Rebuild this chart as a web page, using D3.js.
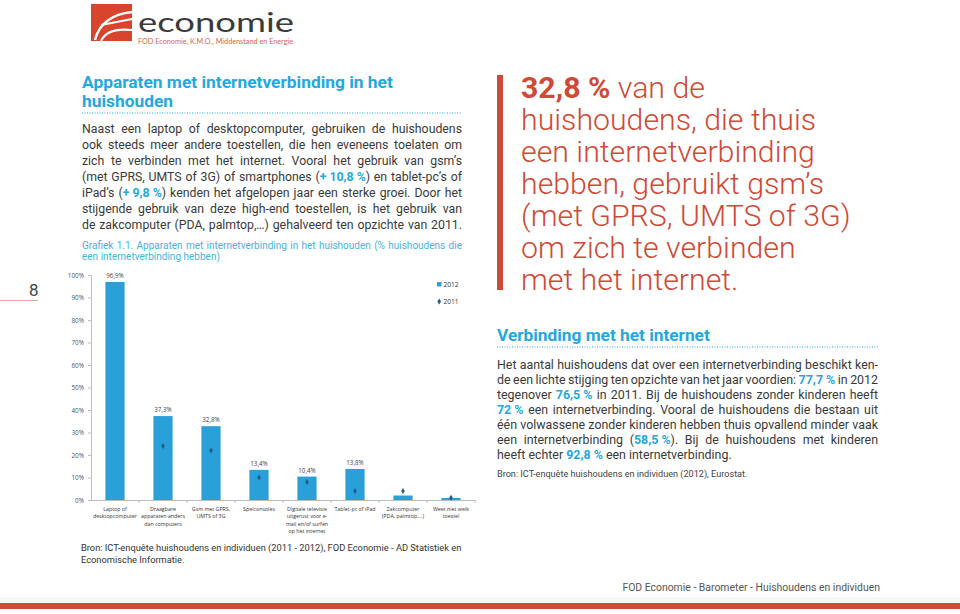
<!DOCTYPE html>
<html><head><meta charset="utf-8">
<script src="https://cdn.jsdelivr.net/npm/d3@7"></script>
<style>body{margin:0;background:#fff;} svg{display:block}</style>
</head><body>
<svg id="page" width="960" height="614"></svg>
<script>
// ---------- DATA ----------
const categories = ["Laptop of desktopcomputer","Draagbare apparaten anders dan computers","Gsm met GPRS, UMTS of 3G","Spelconsoles","Digitale televisie uitgerust voor e-mail en/of surfen op het internet","Tablet-pc of iPad","Zakcomputer (PDA, palmtop,…)","Weet niet welk toestel"];
const categoryLines = [["Laptop of","desktopcomputer"],["Draagbare","apparaten anders","dan computers"],["Gsm met GPRS,","UMTS of 3G"],["Spelconsoles"],["Digitale televisie","uitgerust voor e-","mail en/of surfen","op het internet"],["Tablet-pc of iPad"],["Zakcomputer","(PDA, palmtop,…)"],["Weet niet welk","toestel"]];
const values2012 = [96.9, 37.3, 32.8, 13.4, 10.4, 13.8, 2.0, 0.9];
const values2011 = [null, 24.0, 22.0, 10.0, 8.0, 4.0, 4.0, 1.0];
const barLabels = ["96,9%","37,3%","32,8%","13,4%","10,4%","13,8%",null,null];
const yTickValues = [0,10,20,30,40,50,60,70,80,90,100];
const yTickLabels = ["0%","10%","20%","30%","40%","50%","60%","70%","80%","90%","100%"];
const seriesNames = ["2012","2011"];

const titleLines = ["Apparaten met internetverbinding in het","huishouden"];
const introLines = [
  [["Naast een laptop of desktopcomputer, gebruiken de huishoudens"]],
  [["ook steeds meer andere toestellen, die hen eveneens toelaten om"]],
  [["zich te verbinden met het internet. Vooral het gebruik van gsm’s"]],
  [["(met GPRS, UMTS of 3G) of smartphones ("],["+ 10,8 %","b"],[") en tablet-pc’s of"]],
  [["iPad’s ("],["+ 9,8 %","b"],[") kenden het afgelopen jaar een sterke groei. Door het"]],
  [["stijgende gebruik van deze high-end toestellen, is het gebruik van"]],
  [["de zakcomputer (PDA, palmtop,…) gehalveerd ten opzichte van 2011."]]
];
const captionLines = ["Grafiek 1.1. Apparaten met internetverbinding in het huishouden (% huishoudens die","een internetverbinding hebben)"];
const quoteLines = [[["32,8 %","b"],[" van de"]],[["huishoudens, die thuis"]],[["een internetverbinding"]],[["hebben, gebruikt gsm’s"]],[["(met GPRS, UMTS of 3G)"]],[["om zich te verbinden"]],[["met het internet."]]];
const section2Title = "Verbinding met het internet";
const section2Lines = [
  [["Het aantal huishoudens dat over een internetverbinding beschikt ken-"]],
  [["de een lichte stijging ten opzichte van het jaar voordien: "],["77,7 %","b"],[" in 2012"]],
  [["tegenover "],["76,5 %","b"],[" in 2011. Bij de huishoudens zonder kinderen heeft"]],
  [["72 %","b"],[" een internetverbinding. Vooral de huishoudens die bestaan uit"]],
  [["één volwassene zonder kinderen hebben thuis opvallend minder vaak"]],
  [["een internetverbinding ("],["58,5 %","b"],["). Bij de huishoudens met kinderen"]],
  [["heeft echter "],["92,8 %","b"],[" een internetverbinding."]]
];
const source2 = "Bron: ICT-enquête huishoudens en individuen (2012), Eurostat.";
const sourceLines = ["Bron: ICT-enquête huishoudens en individuen (2011 - 2012), FOD Economie - AD Statistiek en","Economische Informatie."];
const footerText = "FOD Economie - Barometer - Huishoudens en individuen";

// ---------- STYLE ----------
const RED = "#cf4a36", CYAN = "#1fa9df", TEXT = "#3a3a3a", BAR = "#2a9fd9", MARK = "#1f5c8c";
const FONT = "Roboto, 'Open Sans', sans-serif";
const CFONT = "'Open Sans', 'Liberation Sans', sans-serif";

const svg = d3.select("#page");
const measureT = svg.append("text").attr("x",-1000).attr("y",-1000);
function measure(str, size, weight, family){
  measureT.attr("font-family", family||FONT).attr("font-size", size).attr("font-weight", weight||400).text(str);
  return measureT.node().getComputedTextLength();
}
function fitSize(str, target, weight, family){
  return 20 * target / measure(str, 20, weight, family);
}
function segText(segs){ return segs.map(s => s[0]).join(""); }
function richLine(x0, y, width, segs, size, opts){
  opts = opts || {};
  const fam = opts.family || FONT;
  const words = []; let cur = [];
  segs.forEach(([t, st]) => {
    let buf = "";
    for (const ch of t){
      if (ch === " " && st !== "b"){ if (buf) cur.push([buf, st]); buf=""; if (cur.length) words.push(cur); cur = []; }
      else buf += ch;
    }
    if (buf) cur.push([buf, st]);
  });
  if (cur.length) words.push(cur);
  const wWidths = words.map(w => d3.sum(w, p => measure(p[0], size, p[1]==="b"?(opts.boldW||700):(opts.weight||400), fam)));
  const space = measure("a a", size, opts.weight||400, fam) - measure("aa", size, opts.weight||400, fam);
  const gap = opts.justify && words.length>1 ? (width - d3.sum(wWidths)) / (words.length-1) : space;
  const t = svg.append("text").attr("y", y).attr("font-family", fam).attr("font-size", size)
    .attr("font-weight", opts.weight||400).attr("fill", opts.fill||TEXT);
  let x = x0;
  words.forEach((w,i) => {
    w.forEach((p,j) => {
      const ts = t.append("tspan").text(p[0]);
      if (j===0) ts.attr("x", x);
      if (p[1]==="b") ts.attr("font-weight", opts.boldW||700).attr("fill", opts.boldFill||CYAN);
    });
    x += wWidths[i] + gap;
  });
  return t;
}

// ---------- HEADER / LOGO ----------
svg.append("rect").attr("x",91).attr("y",4).attr("width",41).attr("height",37).attr("fill","#d8452c");
svg.append("path").attr("d","M95,40 C99,24 112,14 132,12").attr("fill","none").attr("stroke","#fff").attr("stroke-width",2.6);
svg.append("path").attr("d","M101,25 L132,19").attr("fill","none").attr("stroke","#fff").attr("stroke-width",2.2);
svg.append("path").attr("d","M101,41 C105,32 114,28 132,30").attr("fill","none").attr("stroke","#fff").attr("stroke-width",2.2);
svg.append("text").attr("x",138).attr("y",31.5).attr("font-family","Lato, 'Open Sans', sans-serif").attr("font-size",26)
  .attr("textLength",156).attr("lengthAdjust","spacingAndGlyphs")
  .attr("fill","#3b3b3b").text("economie");
svg.append("text").attr("x",138).attr("y",43.5).attr("font-family","Lato, 'Open Sans', sans-serif")
  .attr("font-size",6.8).attr("textLength",155).attr("lengthAdjust","spacingAndGlyphs").attr("fill","#d8664f")
  .text("FOD Economie, K.M.O., Middenstand en Energie");

// page number
svg.append("text").attr("x",29).attr("y",296).attr("font-family",FONT).attr("font-size",17).attr("fill","#444").text("8");
svg.append("line").attr("x1",0).attr("x2",38).attr("y1",300.5).attr("y2",300.5).attr("stroke","#e0a49a").attr("stroke-width",1);

// ---------- LEFT COLUMN TEXT ----------
const tSize = fitSize(titleLines[0], 311, 700);
titleLines.forEach((l,i) => svg.append("text").attr("x",82).attr("y",88+i*19).attr("font-family",FONT)
  .attr("font-weight",700).attr("font-size",tSize).attr("fill",CYAN).text(l));
svg.append("line").attr("x1",82).attr("x2",462).attr("y1",113).attr("y2",113).attr("stroke",CYAN).attr("stroke-width",1).attr("stroke-dasharray","1,1.5");

const introSize = Math.min(13, d3.min(introLines.map(s => fitSize(segText(s), 374))));
introLines.forEach((segs,i) => richLine(82, 133 + i*16, 380, segs, introSize, {justify:true}));
const capSize = fitSize(captionLines[0], 372);
captionLines.forEach((l,i) => richLine(82, 249 + i*11, 380, [[l]], Math.min(capSize,10.4), {fill:"#45b4d9", justify: i===0}));

// ---------- CHART ----------
const x = d3.scaleBand().domain(categories).range([91,475]).paddingInner(0.6).paddingOuter(0.3);
const y = d3.scaleLinear().domain([0,100]).range([500,275]);
const chart = svg.append("g");

const yAxis = chart.append("g").attr("transform","translate(91,0)")
  .call(d3.axisLeft(y).tickValues(yTickValues).tickFormat((d,i)=>yTickLabels[i]).tickSize(3).tickPadding(4));
yAxis.select(".domain").attr("stroke","#bdbdbd");
yAxis.selectAll(".tick line").attr("stroke","#bdbdbd");
yAxis.selectAll("text").attr("font-family",CFONT).attr("font-size",6.4).attr("fill","#555");

const xAxis = chart.append("g").attr("transform","translate(0,500)")
  .call(d3.axisBottom(x).tickSize(0).tickFormat(""));
xAxis.select(".domain").attr("stroke","#bdbdbd");
chart.append("g").selectAll("line").data(categories).join("line")
  .attr("x1", d => x(d) + x.step()*0.7).attr("x2", d => x(d) + x.step()*0.7)
  .attr("y1",500).attr("y2",503).attr("stroke","#bdbdbd");

chart.append("g").selectAll("rect").data(categories).join("rect")
  .attr("x", d => x(d)).attr("width", x.bandwidth())
  .attr("y", (d,i) => y(values2012[i])).attr("height", (d,i) => y(0) - y(values2012[i]))
  .attr("fill", BAR);

chart.append("g").selectAll("text").data(categories.filter((d,i)=>barLabels[i])).join("text")
  .attr("x", d => x(d) + x.bandwidth()/2)
  .attr("y", d => y(values2012[categories.indexOf(d)]) - 4)
  .attr("text-anchor","middle").attr("font-family",CFONT).attr("font-size",6.2).attr("fill","#444")
  .text(d => barLabels[categories.indexOf(d)]);

const diamond = d3.symbol().type(d3.symbolDiamond).size(11);
chart.append("g").selectAll("path").data(categories.filter((d,i)=>values2011[i]!=null)).join("path")
  .attr("transform", d => `translate(${x(d)+x.bandwidth()/2},${y(values2011[categories.indexOf(d)])})`)
  .attr("d", diamond).attr("fill", MARK);

// category labels
const catSize = fitSize("desktopcomputer", 44, 400, CFONT);
const catG = chart.append("g");
categories.forEach((c,i) => {
  const t = catG.append("text").attr("text-anchor","middle").attr("font-family",CFONT).attr("font-size",catSize).attr("fill","#333");
  categoryLines[i].forEach((l,j) => t.append("tspan").attr("x", x(c)+x.bandwidth()/2).attr("y", 510.5 + j*7.6).text(l));
});

// legend
const lg = chart.append("g");
lg.append("rect").attr("x",437).attr("y",282).attr("width",4.5).attr("height",4.5).attr("fill",BAR);
lg.append("text").attr("x",443.5).attr("y",287).attr("font-family",CFONT).attr("font-size",6.6).attr("fill","#333").text(seriesNames[0]);
lg.append("path").attr("transform","translate(439.2,301.5)").attr("d",diamond).attr("fill",MARK);
lg.append("text").attr("x",443.5).attr("y",304).attr("font-family",CFONT).attr("font-size",6.6).attr("fill","#333").text(seriesNames[1]);

// source
const srcSize = fitSize(sourceLines[0], 381);
sourceLines.forEach((l,i) => svg.append("text").attr("x",81).attr("y",551+i*12).attr("font-family",FONT)
  .attr("font-size",srcSize).attr("fill","#333").text(l));

// ---------- RIGHT COLUMN ----------
svg.append("rect").attr("x",497).attr("y",75).attr("width",6).attr("height",215).attr("fill",RED);
const qSize = fitSize("een internetverbinding", 294, 300);
quoteLines.forEach((segs,i) => richLine(521, 97.5 + i*32, 0, segs, qSize, {weight:300, boldW:700, fill:RED, boldFill:RED}));

const s2Size = fitSize(section2Title, 213, 700);
svg.append("text").attr("x",497).attr("y",341).attr("font-family",FONT).attr("font-weight",700)
  .attr("font-size",s2Size).attr("fill",CYAN).text(section2Title);
svg.append("line").attr("x1",497).attr("x2",878).attr("y1",347).attr("y2",347).attr("stroke",CYAN).attr("stroke-width",1).attr("stroke-dasharray","1,1.5");
section2Lines.forEach((segs,i) => richLine(497, 368.5 + i*15.05, 381, segs, 12.4, {justify: i<6}));
svg.append("text").attr("x",497).attr("y",477).attr("font-family",FONT).attr("font-size",fitSize(source2,251))
  .attr("fill","#444").text(source2);

// ---------- FOOTER ----------
svg.append("text").attr("x",880).attr("y",591).attr("text-anchor","end").attr("font-family",FONT)
  .attr("font-size",fitSize(footerText,258)).attr("fill","#555").text(footerText);
svg.append("rect").attr("x",0).attr("y",597).attr("width",960).attr("height",6).attr("fill","#f7f7f7");
svg.append("rect").attr("x",0).attr("y",603).attr("width",960).attr("height",6).attr("fill",RED);

measureT.remove();
</script>
</body></html>
